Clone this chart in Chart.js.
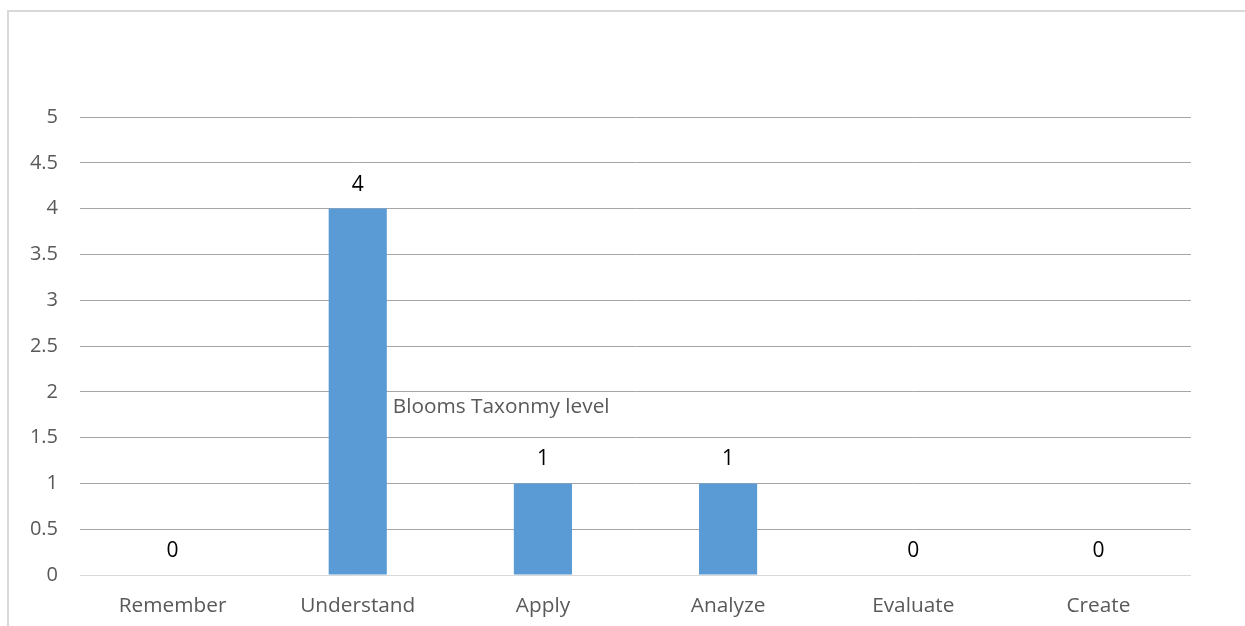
<!DOCTYPE html>
<html>
<head>
<meta charset="utf-8">
<script src="https://cdn.jsdelivr.net/npm/chart.js@4/dist/chart.umd.min.js"></script>
<style>
  body { margin: 0; background: #fff; }
  #wrap { position: relative; width: 1245px; height: 626px; overflow: hidden; }
  #frame { position: absolute; left: 7px; top: 10px; width: 1400px; height: 800px;
           border-left: 2px solid #d9d9d9; border-top: 2px solid #d9d9d9; }
  canvas { position: absolute; left: 0; top: 0; }
</style>
</head>
<body>
<div id="wrap">
  <div id="frame"></div>
  <canvas id="myChart" width="1245" height="626"></canvas>
</div>
<script>
const levels = ['Remember', 'Understand', 'Apply', 'Analyze', 'Evaluate', 'Create'];
const counts = [0, 4, 1, 1, 0, 0];
const yTicks = [0, 0.5, 1, 1.5, 2, 2.5, 3, 3.5, 4, 4.5, 5];
const chartTitle = 'Blooms Taxonmy level';

const fontFamily = "'Open Sans', 'Liberation Sans', sans-serif";

// numbers above each bar + the title floating inside the plot
const barLabels = {
  id: 'barLabels',
  afterDatasetsDraw(chart) {
    const ctx = chart.ctx;
    const meta = chart.getDatasetMeta(0);
    ctx.save();
    ctx.font = '21px ' + fontFamily;
    ctx.fillStyle = '#000';
    ctx.textAlign = 'center';
    ctx.textBaseline = 'middle';
    meta.data.forEach(function(bar, i) {
      ctx.fillText(String(counts[i]), bar.x, bar.y - 24);
    });
    // title sits just right of the second bar
    const second = meta.data[1];
    ctx.font = '20.8px ' + fontFamily;
    ctx.fillStyle = '#595959';
    ctx.textAlign = 'left';
    ctx.fillText(chartTitle, second.x + second.width / 2 + 6, chart.scales.y.getPixelForValue(1.83));
    ctx.restore();
  }
};

const data = {
  labels: levels,
  datasets: [{
    data: counts,
    backgroundColor: '#5b9bd5',
    categoryPercentage: 1,
    barPercentage: 0.314
  }]
};

const config = {
  type: 'bar',
  data: data,
  plugins: [barLabels],
  options: {
    responsive: false,
    animation: false,
    layout: { padding: { top: 117, right: 54, left: 0, bottom: 0 } },
    plugins: {
      legend: { display: false },
      tooltip: { enabled: false }
    },
    scales: {
      x: {
        grid: { display: false, drawTicks: false },
        border: { display: false },
        ticks: { color: '#595959', font: { family: fontFamily, size: 20.8 }, padding: 19 },
        afterFit: function(scale) { scale.height = 51; }
      },
      y: {
        min: 0,
        max: 5,
        afterBuildTicks: function(scale) { scale.ticks = yTicks.map(v => ({ value: v })); },
        grid: {
          drawTicks: false,
          color: function(c) { return c.tick.value === 0 ? '#d9d9d9' : '#a6a6a6'; }
        },
        border: { display: false },
        ticks: {
          color: '#595959',
          font: { family: fontFamily, size: 20 },
          padding: 22,
          callback: function(v) { return String(v); }
        },
        afterFit: function(scale) { scale.width = 80; }
      }
    }
  }
};

new Chart(document.getElementById('myChart'), config);
</script>
</body>
</html>
